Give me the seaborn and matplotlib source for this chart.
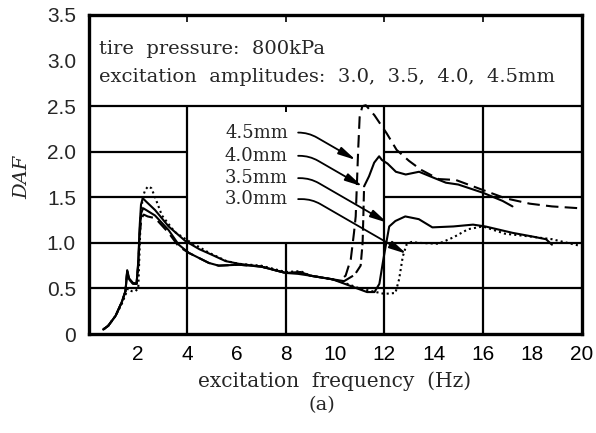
import matplotlib
matplotlib.use("Agg")
import matplotlib.pyplot as plt
import seaborn as sns
import pandas as pd

# --- data (frequency in Hz, DAF) ---
freq_30 = [0.6, 0.8, 1.1, 1.35, 1.5, 1.6, 1.75, 1.9, 2.02, 2.07, 2.12, 2.2, 2.3, 2.42, 2.55,
           2.7, 2.98, 3.5, 4.0, 4.9, 5.6, 6.1, 7.0, 8.0, 8.6, 9.0, 9.9, 10.5, 11.0, 11.5,
           12.0, 12.45, 12.6, 12.75, 12.9, 13.1, 13.4, 14.2, 14.8, 15.4, 16.0, 16.9, 17.9,
           18.8, 19.9]
daf_30 = [0.05, 0.09, 0.2, 0.33, 0.43, 0.5, 0.47, 0.47, 0.5, 0.9, 1.3, 1.5, 1.58, 1.62, 1.6,
          1.5, 1.3, 1.12, 1.03, 0.89, 0.8, 0.77, 0.75, 0.68, 0.69, 0.64, 0.6, 0.55, 0.5, 0.47,
          0.44, 0.45, 0.6, 0.85, 0.98, 1.01, 1.0, 0.99, 1.06, 1.15, 1.18, 1.1, 1.07,
          1.04, 0.97]

freq_35 = [0.6, 0.8, 1.1, 1.35, 1.5, 1.57, 1.65, 1.8, 1.95, 2.02, 2.08, 2.13, 2.2, 2.35, 2.7,
           3.25, 3.93, 4.5, 5.0, 5.56, 6.1, 7.0, 8.0, 8.5, 9.0, 9.9, 10.5, 11.0, 11.3, 11.6,
           11.8, 11.95, 12.1, 12.2, 12.45, 12.85, 13.4, 13.95, 14.8, 15.6, 16.1, 17.2, 18.0,
           18.56, 18.8]
daf_35 = [0.05, 0.09, 0.2, 0.35, 0.47, 0.68, 0.6, 0.55, 0.55, 0.8, 1.2, 1.42, 1.49, 1.45, 1.36,
          1.18, 1.02, 0.93, 0.87, 0.8, 0.77, 0.74, 0.67, 0.66, 0.64, 0.6, 0.54, 0.49, 0.46, 0.46,
          0.55, 0.8, 1.03, 1.18, 1.24, 1.29, 1.26, 1.17, 1.18, 1.2, 1.18, 1.11, 1.07,
          1.04, 0.98]

freq_40 = [0.6, 0.8, 1.1, 1.35, 1.5, 1.57, 1.65, 1.8, 1.95, 2.02, 2.08, 2.14, 2.22, 2.4, 2.7,
           3.25, 3.66, 4.07, 4.88, 5.28, 6.1, 7.0, 8.0, 8.6, 9.0, 9.9, 10.37, 10.8, 11.04,
           11.12, 11.15, 11.18, 11.38, 11.59, 11.79, 11.9, 12.13, 12.47, 12.87, 13.41, 13.95,
           14.5, 15.0, 16.0, 16.8, 17.2]
daf_40 = [0.05, 0.09, 0.2, 0.35, 0.47, 0.7, 0.61, 0.56, 0.55, 0.78, 1.15, 1.33, 1.38, 1.35, 1.3,
          1.14, 0.98, 0.89, 0.78, 0.75, 0.76, 0.74, 0.67, 0.68, 0.64, 0.6, 0.58, 0.65, 0.75,
          1.0, 1.29, 1.62, 1.73, 1.88, 1.95, 1.91, 1.87, 1.78, 1.75, 1.78, 1.72,
          1.66, 1.64, 1.55, 1.46, 1.4]
jump_40 = (26, 31)  # first/last point of the dashed jump segment

freq_45 = [0.6, 0.8, 1.1, 1.35, 1.5, 1.57, 1.65, 1.8, 1.95, 2.02, 2.08, 2.15, 2.24, 2.4, 2.71,
           3.25, 3.66, 4.07, 4.88, 5.28, 6.1, 7.0, 8.0, 8.6, 9.0, 9.9, 10.16, 10.43, 10.64,
           10.77, 10.84, 10.94, 11.0, 11.11, 11.25, 11.6, 12.1, 12.5, 13.0, 13.5, 14.2, 14.9,
           16.0, 16.9, 17.9, 18.8, 19.9]
daf_45 = [0.05, 0.09, 0.2, 0.35, 0.47, 0.69, 0.6, 0.56, 0.55, 0.75, 1.1, 1.27, 1.31, 1.29, 1.27,
          1.11, 0.96, 0.89, 0.78, 0.75, 0.76, 0.74, 0.67, 0.67, 0.64, 0.6, 0.58, 0.64, 0.82,
          1.11, 1.29, 2.02, 2.38, 2.5, 2.51, 2.4, 2.2, 2.02, 1.9, 1.8, 1.7, 1.69,
          1.58, 1.49, 1.43, 1.4, 1.38]

labels = ["4.5mm", "4.0mm", "3.5mm", "3.0mm"]
label_y = [2.21, 1.955, 1.71, 1.48]
arrow_tips = [(10.84, 1.91), (11.11, 1.62), (12.13, 1.22), (12.9, 0.88)]

x_ticks = [2, 4, 6, 8, 10, 12, 14, 16, 18, 20]
y_ticks = [0, 0.5, 1.0, 1.5, 2.0, 2.5, 3.0, 3.5]
y_ticklabels = ["0", "0.5", "1.0", "1.5", "2.0", "2.5", "3.0", "3.5"]

sns.set_style("white")
plt.rcParams["font.family"] = ["DejaVu Serif"]

fig = plt.figure(figsize=(5.96, 4.33), dpi=100)
ax = fig.add_axes([88.5 / 596, 1 - 334 / 433, (581.5 - 88.5) / 596, (334 - 15) / 433])

line_kw = dict(color="black", lw=1.5, estimator=None, sort=False, ax=ax, legend=False)

d30 = pd.DataFrame({"f": freq_30, "daf": daf_30})
d35 = pd.DataFrame({"f": freq_35, "daf": daf_35})
d40 = pd.DataFrame({"f": freq_40, "daf": daf_40})
d45 = pd.DataFrame({"f": freq_45, "daf": daf_45})

sns.lineplot(data=d30, x="f", y="daf", linestyle=(0, (1, 1.5)), **line_kw)
sns.lineplot(data=d35, x="f", y="daf", **line_kw)
j0, j1 = jump_40
sns.lineplot(data=d40.iloc[:j0 + 1], x="f", y="daf", **line_kw)
sns.lineplot(data=d40.iloc[j0:j1 + 1], x="f", y="daf", linestyle=(0, (5, 2)), **line_kw)
sns.lineplot(data=d40.iloc[j1:], x="f", y="daf", **line_kw)
sns.lineplot(data=d45, x="f", y="daf", linestyle=(0, (6, 3)), **line_kw)

# grid: text box on top, blank patch behind the pointer labels
grid_kw = dict(color="black", lw=1.6, zorder=1)
for gy in (0.5, 1.0, 2.5):
    ax.axhline(gy, **grid_kw)
ax.hlines([1.5, 2.0], 0, 4, **grid_kw)
ax.hlines([1.5, 2.0], 12, 20, **grid_kw)
ax.vlines([4, 12, 16], 0, 2.5, **grid_kw)
ax.vlines(8, 0, 1.0, **grid_kw)
ax.vlines(8, 2.44, 2.5, color="black", lw=1.4, zorder=1)

ax.set_xlim(0, 20)
ax.set_ylim(0, 3.5)
for sp in ax.spines.values():
    sp.set_linewidth(2.4)
    sp.set_color("black")

ax.set_xticks(x_ticks)
ax.set_xticks(range(1, 20, 2), minor=True)
ax.set_xticklabels([str(t) for t in x_ticks], family="Liberation Sans", fontsize=15)
ax.tick_params(axis="x", which="both", direction="in", length=5, width=1.4,
               pad=8, colors="black")
ax.set_yticks(y_ticks)
ax.set_yticklabels(y_ticklabels, family="Liberation Sans", fontsize=15)
ax.tick_params(axis="y", length=0, pad=9)

top = ax.secondary_xaxis("top")
top.set_xticks([4, 8, 12, 16])
top.tick_params(direction="in", length=5, width=1.4, labeltop=False)
top.spines["top"].set_visible(False)

ax.set_xlabel("excitation  frequency  (Hz)", fontsize=14.5, labelpad=5)
ax.set_ylabel("")
fig.text(22 / 596, 1 - 177 / 433, "DAF", rotation=90, style="italic",
         fontsize=14, ha="center", va="center")
fig.text(322 / 596, 1 - 405 / 433, "(a)", fontsize=14, ha="center", va="center")

ax.text(0.42, 3.13, "tire  pressure:  800kPa", fontsize=14, va="center")
ax.text(0.42, 2.82, "excitation  amplitudes:  3.0,  3.5,  4.0,  4.5mm", fontsize=14,
        va="center")

for lab, ly, tip in zip(labels, label_y, arrow_tips):
    ax.annotate(lab, xy=tip, xytext=(8.09, ly), ha="right", va="center", fontsize=13,
                arrowprops=dict(arrowstyle="-|>,head_length=0.8,head_width=0.18",
                                connectionstyle="angle,angleA=0,angleB=-30,rad=10",
                                relpos=(1, 0.5), shrinkA=5, shrinkB=0,
                                color="black", lw=1.3))

fig.savefig("out.png", dpi=100)
